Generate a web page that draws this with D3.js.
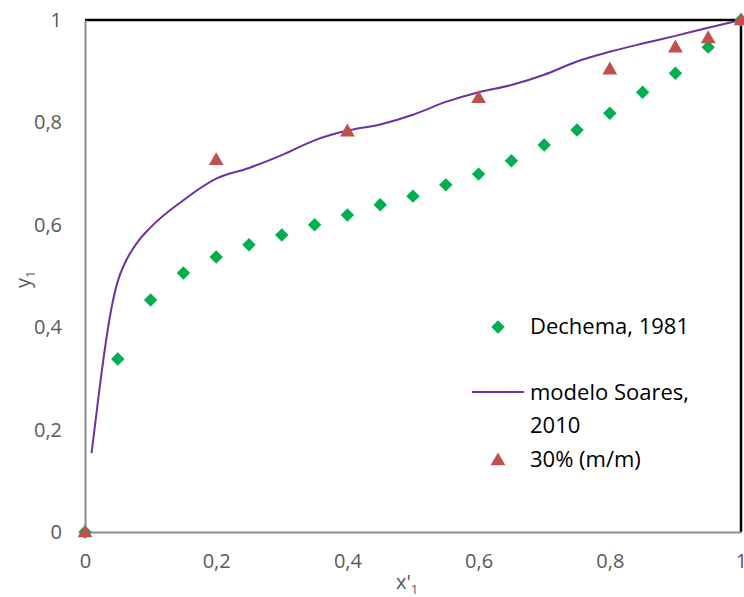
<!DOCTYPE html>
<html>
<head>
<meta charset="utf-8">
<script src="https://cdn.jsdelivr.net/npm/d3@7"></script>
<style>
  body { margin: 0; background: #fff; }
  text { font-family: "Open Sans", sans-serif; }
</style>
</head>
<body>
<svg id="chart" width="744" height="597"></svg>
<script>
// Dechema, 1981
var dechemaX = [0, 0.05, 0.1, 0.15, 0.2, 0.25, 0.3, 0.35, 0.4, 0.45, 0.5, 0.55, 0.6, 0.65, 0.7, 0.75, 0.8, 0.85, 0.9, 0.95, 1];
var dechemaY = [0, 0.338, 0.453, 0.506, 0.537, 0.561, 0.580, 0.600, 0.619, 0.639, 0.656, 0.678, 0.699, 0.725, 0.756, 0.785, 0.818, 0.859, 0.896, 0.947, 1];

// modelo Soares, 2010
var soaresX = [0.01, 0.02, 0.03, 0.04, 0.05, 0.06, 0.08, 0.1, 0.15, 0.2, 0.25, 0.3, 0.35, 0.4, 0.45, 0.5, 0.55, 0.6, 0.65, 0.7, 0.75, 0.8, 0.85, 0.9, 0.95, 1];
var soaresY = [0.154, 0.258, 0.355, 0.435, 0.49, 0.523, 0.566, 0.595, 0.648, 0.690, 0.711, 0.736, 0.765, 0.784, 0.796, 0.815, 0.840, 0.859, 0.873, 0.893, 0.919, 0.938, 0.954, 0.969, 0.985, 1];

// 30% (m/m)
var expX = [0, 0.2, 0.4, 0.6, 0.8, 0.9, 0.95, 1];
var expY = [0, 0.727, 0.783, 0.848, 0.904, 0.947, 0.965, 1];

var xTicks = [0, 0.2, 0.4, 0.6, 0.8, 1];
var yTicks = [0, 0.2, 0.4, 0.6, 0.8, 1];

var svg = d3.select("#chart");
var mLeft = 85, mRight = 741, mTop = 20, mBottom = 532;

var x = d3.scaleLinear().domain([0, 1]).range([mLeft, mRight]);
var y = d3.scaleLinear().domain([0, 1]).range([mBottom, mTop]);

var fmt = d3.formatLocale({decimal: ",", thousands: ".", grouping: [3], currency: ["", ""]}).format("~g");

// top and right borders
svg.append("path")
  .attr("d", "M" + mLeft + "," + mTop + "H" + mRight + "V" + mBottom)
  .attr("fill", "none").attr("stroke", "#000").attr("stroke-width", 2.5);

var xAxis = svg.append("g").attr("transform", "translate(0," + mBottom + ")")
  .call(d3.axisBottom(x).tickValues(xTicks).tickSize(0).tickPadding(22).tickFormat(fmt));
var yAxis = svg.append("g").attr("transform", "translate(" + mLeft + ",0)")
  .call(d3.axisLeft(y).tickValues(yTicks).tickSize(0).tickPadding(23).tickFormat(fmt));

[xAxis, yAxis].forEach(function(a) {
  a.select(".domain").attr("stroke", "#8c8c8c").attr("stroke-width", 2);
  a.selectAll("text").attr("font-size", 20).attr("fill", "#595959").attr("font-family", "Open Sans, sans-serif");
});

// axis titles
var xt = svg.append("text").attr("x", 396).attr("y", 589).attr("font-size", 20).attr("fill", "#595959");
xt.append("tspan").text("x'");
xt.append("tspan").attr("font-size", 13).attr("dy", 5).text("1");

var yt = svg.append("text").attr("transform", "translate(30,288) rotate(-90)").attr("font-size", 20).attr("fill", "#595959");
yt.append("tspan").text("y");
yt.append("tspan").attr("font-size", 13).attr("dy", 5).text("1");

var diamond = d3.symbol().type(d3.symbolSquare).size(90);
var triangle = d3.symbol().type(d3.symbolTriangle).size(95);

// Dechema diamonds
svg.append("g").selectAll("path").data(dechemaX).join("path")
  .attr("d", diamond)
  .attr("transform", function(d, i) { return "translate(" + x(d) + "," + y(dechemaY[i]) + ") rotate(45)"; })
  .attr("fill", "#00B050");

// Soares model line
var line = d3.line()
  .x(function(d) { return x(d); })
  .y(function(d, i) { return y(soaresY[i]); })
  .curve(d3.curveMonotoneX);
svg.append("path").datum(soaresX)
  .attr("d", line)
  .attr("fill", "none").attr("stroke", "#7030A0").attr("stroke-width", 2);

// 30% triangles
svg.append("g").selectAll("path").data(expX).join("path")
  .attr("d", triangle)
  .attr("transform", function(d, i) { return "translate(" + x(d) + "," + (y(expY[i]) + 1) + ")"; })
  .attr("fill", "#C0504D");

// legend
var lg = svg.append("g").attr("font-size", 22).attr("fill", "#000");
lg.append("path").attr("d", diamond).attr("transform", "translate(498,327) rotate(45)").attr("fill", "#00B050");
lg.append("text").attr("x", 530).attr("y", 334).text("Dechema, 1981");
lg.append("line").attr("x1", 472).attr("x2", 524).attr("y1", 392).attr("y2", 392)
  .attr("stroke", "#7030A0").attr("stroke-width", 2);
lg.append("text").attr("x", 530).attr("y", 400).text("modelo Soares,");
lg.append("text").attr("x", 530).attr("y", 433).text("2010");
lg.append("path").attr("d", triangle).attr("transform", "translate(498,461)").attr("fill", "#C0504D");
lg.append("text").attr("x", 530).attr("y", 467).text("30% (m/m)");
</script>
</body>
</html>
